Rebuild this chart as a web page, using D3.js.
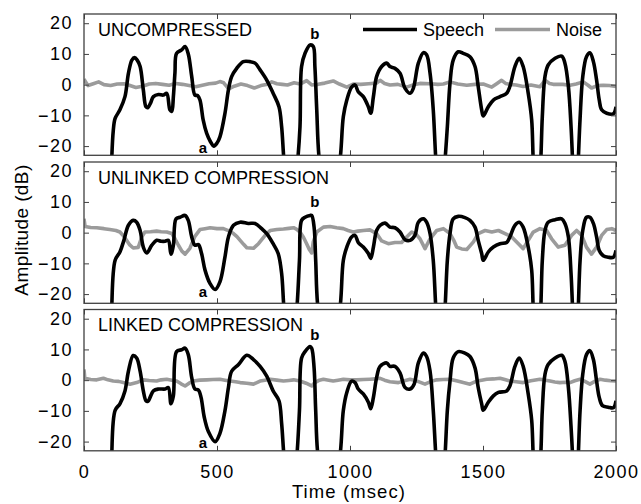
<!DOCTYPE html>
<html>
<head>
<meta charset="utf-8">
<script src="https://cdn.jsdelivr.net/npm/d3@7"></script>
<style>
  html, body { margin: 0; padding: 0; background: #fff; }
  svg { display: block; font-family: "Liberation Sans", Arial, Helvetica, sans-serif; }
</style>
</head>
<body>
<svg id="chart" width="641" height="504"></svg>
<script>
// ---- data: [time (msec), amplitude (dB)] ----
const panelTitles = ["UNCOMPRESSED", "UNLINKED COMPRESSION", "LINKED COMPRESSION"];
const xTicks = [0, 500, 1000, 1500, 2000];
const yTicks = [-20, -10, 0, 10, 20];
const seriesNames = ["Speech", "Noise"];

const speechUncompressed = [[100,-45],[104,-25],[110,-15],[117,-11],[135,-8.2],[154,-3.9],[167,3.7],[180,8],[190,8.8],[200,8],[211,5.9],[223,-1.7],[233,-7.2],[240,-7.5],[250,-6],[261,-3.9],[280,-3.2],[298,-3.4],[311,-2.8],[323,-8.2],[330,-8.7],[336,-3.9],[342,4],[348,10.2],[367,11.3],[380,12.4],[392,10],[405,2.6],[417,-3.4],[427,-3.5],[436,-5],[448,-11.5],[461,-15.8],[475,-18.5],[488,-20],[500,-19],[511,-17],[530,-9.3],[543,-1.7],[555,2.6],[574,5.3],[599,7.5],[624,7.5],[643,7],[662,4.8],[687,1.5],[711,-2.8],[733,-7.2],[743,-13.7],[752,-25],[776,-45],[803,-25],[812,-13.7],[818,5.9],[831,10.2],[850,12.9],[862,12.4],[868,5.9],[875,-8.2],[885,-25],[923,-45],[962,-25],[975,-10.4],[988,-5],[1006,-0.8],[1019,-0.1],[1031,-2.3],[1050,-3.9],[1069,-7.2],[1078,-9.3],[1088,-3.9],[1100,2.6],[1119,5.9],[1138,7],[1150,5.9],[1169,5.3],[1188,3.7],[1207,-1.2],[1226,-2.8],[1238,-1.2],[1257,7],[1276,10.4],[1288,9.7],[1301,3.7],[1313,-8.2],[1323,-25],[1340,-45],[1357,-25],[1366,-13.7],[1376,0.5],[1388,8],[1407,10.7],[1426,10.2],[1451,9.1],[1470,5.9],[1482,-0.6],[1495,-8.2],[1501,-10.2],[1520,-7.2],[1539,-5],[1564,-3.9],[1589,-2.8],[1601,-0.6],[1620,5.9],[1636,8.6],[1651,5.9],[1670,-2.8],[1683,-11.5],[1689,-25],[1703,-45],[1717,-25],[1723,-10.4],[1733,2.6],[1745,6.4],[1771,8.6],[1796,9.3],[1808,7],[1821,-0.6],[1831,-13.7],[1837,-25],[1848,-45],[1858,-25],[1865,-11],[1875,2.6],[1889,9.1],[1902,10.4],[1915,7.5],[1927,1.5],[1937,-5],[1946,-8.2],[1965,-9.3],[1990,-9.5],[2000,-7.2]];

const speechUnlinked = [[100,-45],[104,-25],[117,-9],[135,-6.3],[150,-2.5],[167,2.4],[185,4],[198,3.4],[211,0.7],[223,-4.7],[236,-6.6],[255,-4.1],[273,-2.5],[290,-2.8],[305,-2.8],[317,-2.5],[327,-7],[336,-4.1],[346,4.5],[361,5],[380,5.6],[392,4],[405,-1.4],[417,-4.1],[430,-3.9],[442,-6.8],[455,-12.2],[474,-16.6],[493,-18.5],[511,-16],[530,-7.9],[543,-1.4],[562,2.4],[587,3.4],[618,3],[643,3],[668,1.3],[687,-0.3],[711,-3.6],[730,-6.8],[743,-13.3],[752,-25],[776,-45],[800,-25],[810,-9],[818,4],[831,5],[850,5.6],[856,5.6],[865,1.8],[871,-9],[880,-25],[921,-45],[962,-25],[975,-9],[988,-4.7],[1006,-1.4],[1019,-0.9],[1031,-3.2],[1050,-4.7],[1069,-6.8],[1078,-8.4],[1088,-4.7],[1100,0.7],[1113,2.4],[1132,3.1],[1150,1.8],[1169,1.6],[1188,0.2],[1207,-2.3],[1226,-2.5],[1244,-0.9],[1257,3.4],[1276,4.5],[1288,3.4],[1301,-0.3],[1313,-9],[1323,-25],[1340,-45],[1357,-25],[1366,-9],[1376,-0.3],[1388,4.5],[1407,5.3],[1432,4.9],[1451,4],[1470,1.8],[1482,-2.5],[1495,-6.8],[1501,-9],[1520,-6.3],[1539,-4.7],[1564,-3.6],[1589,-3.2],[1601,-1.4],[1620,2.4],[1636,3.4],[1651,1.8],[1670,-4.7],[1683,-12.2],[1689,-25],[1703,-45],[1717,-25],[1723,-9],[1733,0.7],[1745,3.4],[1771,4.2],[1796,4.5],[1808,3],[1821,-1.4],[1831,-13.3],[1837,-25],[1848,-45],[1858,-25],[1865,-9],[1875,0.7],[1889,5],[1902,5],[1915,3],[1927,-1.4],[1937,-5.8],[1952,-7.5],[1971,-8],[1990,-8],[2000,-5.8]];

const speechLinked = [[100,-45],[104,-25],[117,-9.8],[135,-7.7],[154,-3.5],[167,2.9],[185,8],[198,7.2],[211,2.9],[223,-3.5],[233,-6.7],[240,-6.9],[261,-3.5],[280,-2.9],[305,-2.9],[317,-2.4],[327,-7.7],[336,-5.1],[348,9.3],[367,9.9],[380,10.4],[392,8.3],[405,0.8],[417,-2.9],[430,-3.2],[440,-5.6],[452,-12],[468,-16.8],[493,-20],[511,-17.3],[530,-9.9],[543,-2.4],[555,2.9],[581,5.1],[612,8.1],[637,6.7],[662,4.5],[687,1.3],[711,-3.5],[733,-6.7],[743,-14.1],[752,-25],[776,-45],[800,-25],[810,-9.8],[818,7.2],[831,9.3],[850,10.9],[856,10.4],[865,4],[871,-9.8],[880,-25],[921,-45],[962,-25],[975,-9.8],[988,-4],[1006,-0.3],[1019,-0.8],[1031,-2.9],[1050,-4.5],[1069,-7.2],[1078,-9.3],[1088,-5.6],[1100,0.8],[1113,4.5],[1138,5.6],[1150,4.5],[1169,4.5],[1188,2.4],[1207,-2.4],[1226,-2.9],[1241,-1.3],[1257,5.6],[1276,8.8],[1288,7.7],[1301,2.9],[1313,-9.8],[1323,-25],[1340,-45],[1357,-25],[1366,-9.8],[1376,-0.3],[1388,7.2],[1407,9.3],[1432,8.8],[1451,7.7],[1470,4],[1482,-2.4],[1495,-7.7],[1501,-9.8],[1520,-7.2],[1539,-5.1],[1558,-4],[1589,-3.5],[1601,-1.9],[1620,4.5],[1636,7.2],[1651,4.5],[1670,-4.5],[1683,-13],[1689,-25],[1703,-45],[1717,-25],[1723,-9.8],[1733,1.9],[1745,5.1],[1771,7.2],[1796,8.1],[1808,6.1],[1821,-2.4],[1831,-15.2],[1837,-25],[1848,-45],[1858,-25],[1865,-9.8],[1875,1.9],[1889,8.3],[1902,9.6],[1915,6.7],[1927,-0.3],[1937,-5.6],[1949,-8.3],[1971,-8.8],[1990,-9],[2000,-6.7]];

const noiseUncompressed = [[0,1.8],[8,0.6],[15,-0.3],[35,0.3],[55,0.9],[75,0],[100,-0.3],[125,0.2],[150,0.3],[170,-0.2],[195,-0.9],[220,-0.5],[245,0.2],[270,0.4],[295,0.1],[320,-0.2],[345,0.4],[370,0.1],[395,-0.3],[420,-0.7],[445,-0.2],[470,0.3],[495,0.5],[511,1],[525,0.6],[544,-1.4],[565,-0.5],[590,0.2],[615,-0.3],[640,-1.1],[665,-0.3],[690,0.1],[706,0.9],[725,0.3],[745,0.1],[765,-0.1],[790,0.6],[812,0.2],[837,1.3],[856,-0.1],[880,0.1],[905,0.5],[937,1.2],[960,0.2],[988,-0.8],[1012,0.2],[1040,0.1],[1070,0.3],[1100,0.5],[1113,1.4],[1130,0.4],[1150,-0.1],[1180,0.1],[1213,-0.8],[1240,0],[1263,0.4],[1301,0.3],[1330,0.1],[1351,0.2],[1376,0.9],[1405,0.2],[1439,-0.2],[1470,0.1],[1501,0.2],[1533,-0.8],[1550,0.2],[1570,1.4],[1585,0.4],[1601,0.1],[1625,-0.1],[1651,-0.6],[1680,-0.1],[1714,-0.7],[1733,1.4],[1750,0.4],[1764,0.1],[1800,0.1],[1827,-0.2],[1850,0.2],[1877,0.9],[1895,-0.2],[1908,-1.1],[1930,-0.3],[1952,-0.2],[1975,-0.3],[2000,-0.6]];

const noiseUnlinked = [[0,4.5],[4,2],[25,1.7],[48,1.6],[75,1.3],[97,1],[120,0.7],[135,0.2],[148,-1],[160,-2.5],[172,-4],[185,-5],[204,-4.8],[217,-1.4],[229,0.2],[250,0.3],[273,0.5],[290,0.3],[311,0.2],[330,-0.3],[342,-2],[355,-4.1],[368,-6],[380,-7],[398,-5.1],[417,-1.2],[436,1],[455,1.3],[474,1.6],[500,1.3],[524,1.3],[545,0.6],[562,-0.3],[575,-1.3],[587,-2.5],[600,-3.8],[612,-4.9],[637,-5.1],[656,-3.6],[681,-0.9],[700,0.7],[725,1],[750,1.2],[770,1.4],[788,1.6],[800,1.1],[812,0.2],[825,-1.5],[837,-3.6],[847,-5.5],[856,-6.6],[862,-3],[875,0.2],[900,1.8],[925,2],[950,1.6],[975,1.3],[993,0.7],[1012,0.2],[1030,0.5],[1050,0.7],[1075,0.9],[1100,-0.3],[1119,-2.7],[1144,-3.6],[1169,-3.2],[1194,-3.2],[1213,-1.4],[1232,0.2],[1248,-0.5],[1263,-2],[1282,-5.2],[1301,-2],[1326,0.7],[1351,1.3],[1376,-0.3],[1390,-2.5],[1401,-4.7],[1420,-5.3],[1439,-5.5],[1464,-3],[1482,-0.3],[1508,0.7],[1533,0.2],[1558,0.7],[1583,-0.3],[1608,-1.4],[1633,-3.6],[1651,-5.2],[1670,-2.5],[1689,0.2],[1714,1.3],[1739,0.7],[1758,-2],[1783,-4.7],[1808,-4.1],[1833,-0.9],[1852,0.7],[1871,-0.9],[1889,-4.7],[1908,-7],[1927,-4.7],[1946,-0.9],[1965,1],[1984,1.3],[2000,0.7]];

const noiseLinked = [[0,3.5],[3,0.6],[25,0.2],[48,0.1],[73,0.6],[90,0.1],[110,-0.3],[130,-0.4],[148,-0.8],[173,-1.3],[198,-0.8],[223,0.1],[245,-0.1],[273,-0.3],[290,0.1],[311,0.3],[330,0],[348,-0.3],[365,-1.2],[380,-1.9],[395,-1],[411,-0.3],[435,0],[461,0.1],[485,0.2],[511,0.3],[530,0],[549,-0.3],[570,-0.5],[587,-0.8],[612,-1],[637,-1.3],[662,-0.3],[680,0],[700,0.3],[725,0],[750,-0.3],[770,-0.1],[788,0.1],[812,-0.3],[835,-1],[856,-1.9],[868,-0.8],[885,0],[900,0.3],[920,0],[937,-0.3],[955,0],[975,0.3],[1000,0.1],[1025,0.1],[1050,0.2],[1075,0.3],[1095,0.4],[1113,0.6],[1130,0],[1150,-0.5],[1182,-0.8],[1205,-0.2],[1226,0.3],[1255,-0.4],[1282,-1.3],[1305,-0.4],[1326,0.1],[1350,0.2],[1376,0.3],[1400,-0.2],[1426,-0.8],[1451,-1.3],[1476,-0.3],[1495,0],[1514,0.3],[1540,0.4],[1564,0.6],[1585,0.1],[1601,-0.3],[1625,-0.5],[1651,-0.8],[1680,-0.2],[1714,0.3],[1735,0],[1752,-0.3],[1770,-0.6],[1789,-0.8],[1810,-0.7],[1827,-0.8],[1845,-0.2],[1865,0.3],[1885,-0.5],[1902,-1.3],[1920,-0.4],[1940,0.3],[1960,0],[1980,-0.2],[2000,-0.3]];

// annotation anchors [time, amplitude] for the "a" and "b" markers
const markA = [[447,-22.1],[447,-20.9],[447,-22]];
const markB = [[868,14.9],[868,8.3],[868,13.1]];

const speechSeries = [speechUncompressed, speechUnlinked, speechLinked];
const noiseSeries = [noiseUncompressed, noiseUnlinked, noiseLinked];

// ---- layout ----
const svg = d3.select("#chart");
const left = 84, right = 616;
const panelTops = [14, 162, 309.5];
const panelH = 141.3;
const speechColor = "#000000";
const noiseColor = "#9b9b9b";
const frameColor = "#404040";
const lineW = 3.6;

const x = d3.scaleLinear().domain([0, 2000]).range([left, right]);

panelTitles.forEach((title, i) => {
  const top = panelTops[i];
  const y = d3.scaleLinear().domain([-23, 23]).range([top + panelH, top]);
  const g = svg.append("g");

  const clipId = "clip" + i;
  svg.append("clipPath").attr("id", clipId)
    .append("rect").attr("x", left).attr("y", top).attr("width", right - left).attr("height", panelH);

  const line = d3.line().x(d => x(d[0])).y(d => y(d[1]));

  const plot = g.append("g").attr("clip-path", `url(#${clipId})`);
  plot.append("path").datum(noiseSeries[i])
    .attr("d", line.curve(d3.curveLinear))
    .attr("fill", "none").attr("stroke", noiseColor).attr("stroke-width", lineW)
    .attr("stroke-linejoin", "round");
  plot.append("path").datum(speechSeries[i])
    .attr("d", line.curve(d3.curveCatmullRom.alpha(0.5)))
    .attr("fill", "none").attr("stroke", speechColor).attr("stroke-width", lineW)
    .attr("stroke-linejoin", "round");

  // axes with inward ticks on all four sides
  const tickLen = 5;
  const yl = g.append("g").attr("transform", `translate(${left},0)`)
    .call(d3.axisLeft(y).tickValues(yTicks).tickSize(-tickLen).tickPadding(tickLen + 6).tickFormat(d => d < 0 ? "\u2212" + Math.abs(d) : d));
  const yr = g.append("g").attr("transform", `translate(${right},0)`)
    .call(d3.axisRight(y).tickValues(yTicks).tickSize(-tickLen).tickFormat(""));
  const xb = g.append("g").attr("transform", `translate(0,${top + panelH})`)
    .call(d3.axisBottom(x).tickValues(xTicks).tickSize(-tickLen).tickPadding(tickLen + 9).tickFormat(i === 2 ? d3.format("d") : ""));
  const xt = g.append("g").attr("transform", `translate(0,${top})`)
    .call(d3.axisTop(x).tickValues(xTicks).tickSize(-tickLen).tickFormat(""));
  [yl, yr, xb, xt].forEach(a => {
    a.select(".domain").remove();
    a.selectAll("line").attr("stroke", frameColor).attr("stroke-width", 1);
    a.selectAll("text").attr("fill", "#000").style("font-size", "18px")
      .style("letter-spacing", "1.5px")
      .style("font-family", '"Liberation Sans", Arial, sans-serif');
  });

  g.append("rect").attr("x", left).attr("y", top).attr("width", right - left).attr("height", panelH)
    .attr("fill", "none").attr("stroke", frameColor).attr("stroke-width", 1.3);

  g.append("text").attr("x", 98).attr("y", top + 21.7).text(title)
    .style("font-size", "18px").attr("fill", "#000");

  g.append("text").attr("x", x(markA[i][0])).attr("y", y(markA[i][1]))
    .attr("text-anchor", "middle").style("font-size", "15px").style("font-weight", "bold").text("a");
  g.append("text").attr("x", x(markB[i][0])).attr("y", y(markB[i][1]))
    .attr("text-anchor", "middle").style("font-size", "15px").style("font-weight", "bold").text("b");
});

// legend
const legend = svg.append("g");
const legendItems = [
  { name: seriesNames[0], color: speechColor, x0: 363, x1: 417, tx: 423 },
  { name: seriesNames[1], color: noiseColor, x0: 495, x1: 550, tx: 556 }
];
legendItems.forEach(it => {
  legend.append("line").attr("x1", it.x0).attr("x2", it.x1).attr("y1", 29.5).attr("y2", 29.5)
    .attr("stroke", it.color).attr("stroke-width", lineW);
  legend.append("text").attr("x", it.tx).attr("y", 35.8).text(it.name)
    .style("font-size", "18px").attr("fill", "#000");
});

// axis titles
svg.append("text").attr("x", 349).attr("y", 498).attr("text-anchor", "middle")
  .style("font-size", "18.5px").style("letter-spacing", "1.1px").text("Time (msec)");
svg.append("text").attr("transform", "translate(28,230) rotate(-90)").attr("text-anchor", "middle")
  .style("font-size", "19px").style("letter-spacing", "0.4px").text("Amplitude (dB)");
</script>
</body>
</html>
